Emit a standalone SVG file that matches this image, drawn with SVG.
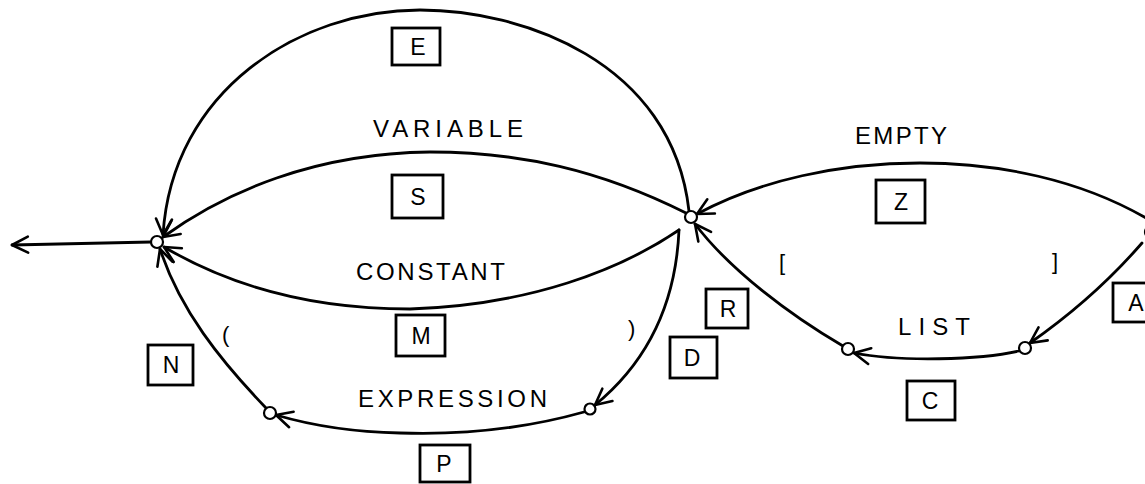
<svg xmlns="http://www.w3.org/2000/svg" width="1145" height="484" viewBox="0 0 1145 484">
<defs>
<marker id="arr" markerUnits="userSpaceOnUse" markerWidth="24" markerHeight="24" viewBox="0 0 24 24" refX="20" refY="12" orient="auto">
<path d="M4,4 L20,12 L4,20" fill="none" stroke="#000" stroke-width="2.6" stroke-linecap="round" stroke-linejoin="round"/>
</marker>
</defs>
<style>
.edge{fill:none;stroke:#000;stroke-width:2.8;stroke-linecap:round;marker-end:url(#arr)}
.node{fill:#fff;stroke:#000;stroke-width:2.2}
.box{fill:#fff;stroke:#000;stroke-width:2.8}
.lbl{font-family:"Liberation Sans","DejaVu Sans",sans-serif;font-size:24px;fill:#000}
.bl{font-family:"Liberation Sans","DejaVu Sans",sans-serif;font-size:23px;fill:#000;text-anchor:middle}
.pn{font-family:"Liberation Sans","DejaVu Sans",sans-serif;font-size:22px;fill:#000}
</style>
<rect width="1145" height="484" fill="#fff"/>
<g id="connectors">
<path id="e-E" class="edge" d="M689 211 C672 60 520 10 420 10 C300 10 172 90 163 235"/>
<path id="e-S" class="edge" d="M686 213 C600 170 520 152 430 152 C315 153 225 192 163 237"/>
<path id="e-M" class="edge" d="M679 230 C620 270 530 305 410 309 C300 309 220 280 164 247"/>
<path id="e-D" class="edge" d="M679 230 C676 300 650 360 595 405"/>
<path id="e-P" class="edge" d="M584 412 C520 430 460 435 400 433 C350 432 310 425 276 415"/>
<path id="e-N" class="edge" d="M266 408 C220 360 180 310 160 249"/>
<path id="e-out" class="edge" d="M151 242 L12 245"/>
<path id="e-Z" class="edge" d="M1146 218 C1080 180 1000 163 920 163 C840 163 760 180 697 214"/>
<path id="e-R" class="edge" d="M843 346 C790 315 730 270 695 224"/>
<path id="e-A" class="edge" d="M1142 243 C1110 280 1070 315 1030 343"/>
<path id="e-C" class="edge" d="M1019 351 C980 360 900 362 854 353"/>
</g>
<g id="n-L"><circle class="node" cx="157" cy="242" r="6"/></g>
<g id="n-C"><circle class="node" cx="691" cy="217" r="6"/></g>
<g id="n-R"><circle class="node" cx="1151" cy="232" r="6"/></g>
<g id="n-P1"><circle class="node" cx="270" cy="413" r="6"/></g>
<g id="n-P2"><circle class="node" cx="590" cy="409" r="5.5"/></g>
<g id="n-L1"><circle class="node" cx="848" cy="349" r="6"/></g>
<g id="n-L2"><circle class="node" cx="1025" cy="348" r="6"/></g>
<g id="labels">
<text class="lbl" x="373" y="137" textLength="150" lengthAdjust="spacing">VARIABLE</text>
<text class="lbl" x="356" y="280" textLength="149" lengthAdjust="spacing">CONSTANT</text>
<text class="lbl" x="358" y="407" textLength="189" lengthAdjust="spacing">EXPRESSION</text>
<text class="lbl" x="855" y="144" textLength="92" lengthAdjust="spacing">EMPTY</text>
<text class="lbl" x="898" y="335" textLength="72" lengthAdjust="spacing">LIST</text>
<text class="pn" x="222" y="342">(</text>
<text class="pn" x="628" y="336">)</text>
<text class="pn" x="779" y="270">[</text>
<text class="pn" x="1052" y="269">]</text>
</g>
<g id="b-E"><rect class="box" x="392" y="28" width="48" height="37"/><text class="bl" x="418" y="55">E</text></g>
<g id="b-S"><rect class="box" x="392" y="175" width="51" height="43"/><text class="bl" x="418" y="205">S</text></g>
<g id="b-M"><rect class="box" x="396" y="315" width="49" height="41"/><text class="bl" x="421" y="344">M</text></g>
<g id="b-P"><rect class="box" x="420" y="445" width="50" height="37"/><text class="bl" x="444" y="472">P</text></g>
<g id="b-N"><rect class="box" x="148" y="345" width="45" height="40"/><text class="bl" x="171" y="373">N</text></g>
<g id="b-R"><rect class="box" x="706" y="289" width="42" height="39"/><text class="bl" x="728" y="317">R</text></g>
<g id="b-D"><rect class="box" x="670" y="337" width="47" height="41"/><text class="bl" x="692" y="366">D</text></g>
<g id="b-Z"><rect class="box" x="876" y="180" width="49" height="43"/><text class="bl" x="901" y="210">Z</text></g>
<g id="b-C"><rect class="box" x="907" y="381" width="48" height="39"/><text class="bl" x="930" y="409">C</text></g>
<g id="b-A"><rect class="box" x="1113" y="283" width="40" height="39"/><text class="bl" x="1136" y="311">A</text></g>
</svg>
